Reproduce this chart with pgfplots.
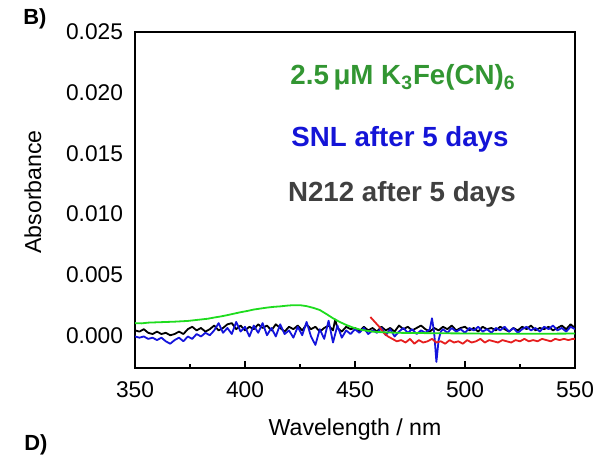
\documentclass[border=0pt]{standalone}
\usepackage{pgfplots}
\pgfplotsset{compat=1.18}
\usepackage{fontspec}
\setmainfont{Liberation Sans}
\definecolor{lgreen}{RGB}{30,220,30}
\definecolor{tgreen}{RGB}{50,150,50}
\definecolor{lblue}{RGB}{20,20,220}
\definecolor{tblue}{RGB}{20,20,215}
\definecolor{tgray}{RGB}{64,64,64}
\definecolor{lred}{RGB}{230,30,30}
\begin{document}
\begin{tikzpicture}
\useasboundingbox (0,0) rectangle (307.5bp,227.5bp);
\begin{axis}[
  at={(67.5bp,43.5bp)}, anchor=south west,
  scale only axis, width=220bp, height=168bp,
  xmin=350, xmax=550, ymin=-0.0027, ymax=0.025,
  xtick={350,400,450,500,550},
  minor xtick={375,425,475,525},
  ytick={0,0.005,0.01,0.015,0.02,0.025},
  scaled y ticks=false,
  yticklabel style={/pgf/number format/fixed, /pgf/number format/fixed zerofill, /pgf/number format/precision=3},
  xtick pos=lower, ytick pos=left,
  tick align=inside,
  major tick length=3.5bp, minor tick length=2bp,
  tick style={black, line width=0.9bp},
  ytick style={draw=none},
  extra y ticks={0.0024,0.0225},
  extra y tick labels={},
  extra y tick style={tick style={draw=black, line width=0.9bp}, major tick length=2.5bp},
  axis line style={line width=1bp},
  /pgf/number format/assume math mode=true,
  ticklabel style={font=\fontsize{11.4}{13}\selectfont},
  xticklabel style={yshift=-3.5bp},
  yticklabel style={xshift=-2.5bp},
  xlabel={Wavelength / nm},
  ylabel={Absorbance},
  label style={font=\fontsize{11.6}{13}\selectfont},
  xlabel style={at={(axis description cs:0.5,-0.182)}, anchor=center},
  ylabel style={at={(axis description cs:-0.232,0.524)}, anchor=center, rotate=0},
  every axis plot/.append style={line width=0.9bp, line join=round},
]
% black (N212)
\addplot[black] coordinates {
(350,0.0004)(352,0.0003)(354,0.0005)(356,0.0002)(358,0.0001)(360,0.0003)(362,0.0001)(364,0.0002)(366,0.0000)(368,0.0001)
(370,0.0003)(372,0.0001)(374,0.0005)(376,0.0007)(378,0.0004)(380,0.0006)(382,0.0003)(384,0.0005)(386,0.0008)(388,0.0004)
(390,0.0006)(392,0.0009)(394,0.0010)(396,0.0005)(398,0.0008)(400,0.0004)(402,0.0007)(404,0.0005)(406,0.0009)(408,0.0006)
(410,0.0008)(412,0.0004)(414,0.0009)(416,0.0006)(418,0.0003)(420,0.0007)(422,0.0005)(424,0.0008)(426,0.0004)(428,0.0009)
(430,0.0005)(432,0.0007)(434,0.0003)(436,0.0006)(438,0.0008)(440,0.0004)(441,0.0013)(442,0.0006)(444,0.0003)(446,0.0007)
(448,0.0005)(450,0.0006)(452,0.0003)(454,0.0007)(456,0.0004)(458,0.0006)(460,0.0003)(462,0.0007)(464,0.0004)(466,0.0006)
(468,0.0003)(470,0.0008)(472,0.0005)(474,0.0007)(476,0.0004)(478,0.0006)(480,0.0008)(482,0.0005)(484,0.0003)(486,0.0006)
(488,0.0004)(490,0.0007)(492,0.0005)(494,0.0008)(496,0.0004)(498,0.0006)(500,0.0007)(502,0.0004)(504,0.0006)(506,0.0003)
(508,0.0007)(510,0.0005)(512,0.0006)(514,0.0004)(516,0.0007)(518,0.0005)(520,0.0003)(522,0.0006)(524,0.0004)(526,0.0007)
(528,0.0005)(530,0.0008)(532,0.0004)(534,0.0006)(536,0.0005)(538,0.0007)(540,0.0004)(542,0.0006)(544,0.0008)(546,0.0005)
(548,0.0009)(550,0.0006)
};
% blue (SNL)
\addplot[lblue] coordinates {
(350,-0.0001)(352,-0.0002)(354,-0.0001)(356,-0.0003)(358,-0.0002)(360,-0.0004)(362,-0.0002)(364,-0.0005)(366,-0.0007)(368,-0.0004)
(370,-0.0002)(372,-0.0005)(374,-0.0001)(376,-0.0003)(378,0.0001)(380,-0.0001)(382,0.0002)(384,0.0000)(386,0.0004)(388,0.0010)
(390,0.0002)(392,0.0006)(394,0.0001)(396,0.0011)(398,0.0003)(400,0.0007)(402,-0.0001)(404,0.0008)(406,0.0002)(408,0.0010)
(410,0.0000)(412,0.0006)(414,-0.0001)(416,0.0009)(418,0.0001)(420,0.0004)(422,-0.0002)(424,0.0007)(426,0.0000)(428,0.0011)
(430,-0.0001)(432,-0.0008)(434,0.0005)(436,-0.0003)(438,0.0012)(440,-0.0006)(442,0.0008)(444,-0.0002)(446,0.0004)(448,0.0001)
(450,0.0005)(452,0.0002)(454,0.0006)(456,0.0001)(458,0.0004)(460,0.0002)(462,0.0006)(464,0.0000)(466,0.0005)(468,-0.0001)
(470,0.0003)(472,0.0006)(474,0.0002)(476,0.0005)(478,0.0001)(480,0.0004)(482,0.0002)(484,0.0005)(485,0.0014)(486,0.0002)
(487,-0.0022)(488,-0.0004)(489,0.0003)(490,0.0005)(492,0.0002)(494,0.0006)(496,0.0003)(498,0.0005)(500,0.0002)(502,0.0006)
(504,0.0004)(506,0.0007)(508,0.0003)(510,0.0005)(512,0.0002)(514,0.0006)(516,0.0004)(518,0.0007)(520,0.0003)(522,0.0006)
(524,0.0002)(526,0.0005)(528,0.0007)(530,0.0004)(532,0.0006)(534,0.0003)(536,0.0007)(538,0.0005)(540,0.0008)(542,0.0004)
(544,0.0006)(546,0.0003)(548,0.0007)(550,0.0005)
};
% red
\addplot[lred] coordinates {
(457,0.0015)(459,0.0011)(461,0.0007)(463,0.0002)(465,-0.0001)(467,-0.0003)(469,-0.0005)(471,-0.0004)(473,-0.0006)(475,-0.0003)
(477,-0.0007)(479,-0.0004)(481,-0.0006)(483,-0.0005)(485,-0.0003)(487,-0.0006)(489,-0.0005)(491,-0.0007)(493,-0.0004)(495,-0.0006)
(497,-0.0005)(499,-0.0007)(501,-0.0004)(503,-0.0006)(505,-0.0005)(507,-0.0003)(509,-0.0006)(511,-0.0004)(513,-0.0005)(515,-0.0006)
(517,-0.0004)(519,-0.0005)(521,-0.0006)(523,-0.0004)(525,-0.0005)(527,-0.0003)(529,-0.0005)(531,-0.0004)(533,-0.0005)(535,-0.0003)
(537,-0.0004)(539,-0.0005)(541,-0.0003)(543,-0.0004)(545,-0.0003)(547,-0.0004)(549,-0.0003)(550,-0.0003)
};
% green
\addplot[lgreen] coordinates {
(350,0.00100)(353,0.00098)(356,0.00104)(359,0.00106)(362,0.00108)(365,0.00110)(368,0.00112)(371,0.00115)(374,0.00118)(377,0.00124)
(380,0.00130)(383,0.00136)(386,0.00146)(389,0.00155)(392,0.00166)(395,0.00178)(398,0.00190)(401,0.00200)(404,0.00212)(407,0.00220)
(410,0.00228)(413,0.00234)(416,0.00238)(419,0.00244)(422,0.00248)(425,0.00248)(428,0.00240)(431,0.00226)(434,0.00208)(437,0.00175)
(440,0.00140)(443,0.00110)(446,0.00085)(449,0.00064)(452,0.00048)(455,0.00038)(458,0.00030)(461,0.00026)(465,0.00023)(470,0.00020)
(475,0.00019)(480,0.00018)(490,0.00016)(500,0.00015)(510,0.00013)(520,0.00012)(530,0.00012)(540,0.00013)(550,0.00014)
};
\end{axis}
\node[anchor=base west, inner sep=0pt, font=\bfseries\fontsize{11}{12}\selectfont] at (11.5bp,215bp) {B)};
\node[anchor=base west, inner sep=0pt, font=\bfseries\fontsize{11}{12}\selectfont] at (12bp,2.5bp) {D)};
\node[anchor=base, inner sep=0pt, text=tgreen, font=\bfseries\fontsize{13.9}{15}\selectfont] at (201.5bp,185bp) {2.5\,μM K\textsubscript{3}Fe(CN)\textsubscript{6}};
\node[anchor=base, inner sep=0pt, text=tblue, font=\bfseries\fontsize{13.9}{15}\selectfont] at (200bp,154bp) {SNL after 5 days};
\node[anchor=base, inner sep=0pt, text=tgray, font=\bfseries\fontsize{13.9}{15}\selectfont] at (201bp,126.5bp) {N212 after 5 days};
\end{tikzpicture}
\end{document}
